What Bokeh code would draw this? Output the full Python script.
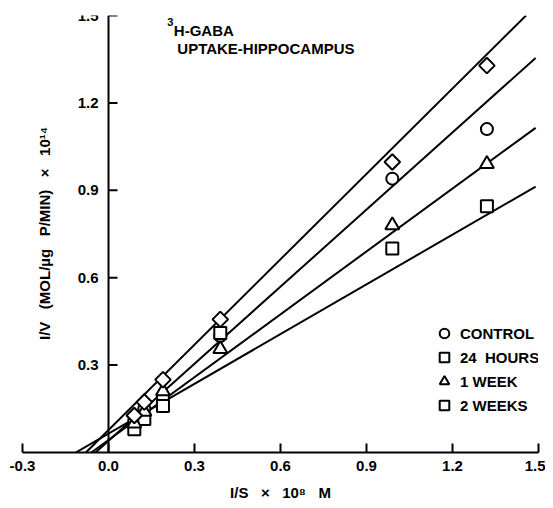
import math
from bokeh.plotting import figure
from bokeh.models import Label, Range1d, FixedTicker, Legend, LegendItem
from bokeh.core.properties import value
from bokeh.embed import file_html
from bokeh.resources import INLINE

NB = "\u00a0"

# ---- data ----
x_tick_values = [-0.3, 0.0, 0.3, 0.6, 0.9, 1.2, 1.5]
x_tick_labels = ["-0.3", "0.0", "0.3", "0.6", "0.9", "1.2", "1.5"]
y_tick_values = [0.3, 0.6, 0.9, 1.2, 1.5]
y_tick_labels = ["0.3", "0.6", "0.9", "1.2", "1.5"]

series_names = ["CONTROL", "24" + NB * 2 + "HOURS", "1 WEEK", "2 WEEKS"]

x_control = [0.09, 0.125, 0.19, 0.39, 0.99, 1.32]
y_control = [0.11, 0.15, 0.19, 0.40, 0.94, 1.11]
x_24h = [0.09, 0.125, 0.19, 0.39, 0.99, 1.32]
y_24h = [0.08, 0.115, 0.16, 0.41, 0.70, 0.845]
x_1w = [0.09, 0.125, 0.19, 0.39, 0.99, 1.32]
y_1w = [0.10, 0.14, 0.21, 0.355, 0.78, 0.99]
x_2w = [0.09, 0.125, 0.19, 0.39, 0.99, 1.32]
y_2w = [0.127, 0.173, 0.25, 0.457, 0.997, 1.328]

# fitted lines (slope, intercept)
fit_slope = [0.882, 0.569, 0.719, 0.977]
fit_intercept = [0.040, 0.065, 0.043, 0.077]

x_title = "I/S" + NB * 3 + "\u00d7" + NB * 3 + "10\u2078" + NB * 3 + "M"
y_title = ("I/V" + NB * 3 + "(MOL/\u00b5g" + NB * 3 + "P/MIN)" + NB * 3 + "\u00d7"
           + NB * 3 + "10\u00b9\u2074")

FONT = value("Liberation Sans")

p = figure(frame_width=516, frame_height=437, output_backend="svg",
           toolbar_location=None, x_range=Range1d(-0.3, 1.5), y_range=Range1d(0, 1.5),
           min_border_left=22, min_border_right=7, min_border_top=15, min_border_bottom=0)
p.outline_line_color = None
p.xgrid.visible = False
p.ygrid.visible = False
p.yaxis.visible = False
p.background_fill_color = "white"
p.border_fill_color = "white"

ax = p.xaxis[0]
ax.ticker = FixedTicker(ticks=x_tick_values)
ax.major_label_overrides = {v: s for v, s in zip(x_tick_values, x_tick_labels)}
ax.minor_tick_line_color = None
ax.major_tick_in = 9
ax.major_tick_out = 0
ax.major_tick_line_width = 2
ax.axis_line_width = 2
ax.axis_line_color = "black"
ax.major_tick_line_color = "black"
ax.major_label_standoff = 8
ax.major_label_text_font = "Liberation Sans"
ax.major_label_text_font_style = "bold"
ax.major_label_text_font_size = "15px"
ax.major_label_text_color = "black"
ax.axis_label = x_title
ax.axis_label_standoff = 10
ax.axis_label_text_font = "Liberation Sans"
ax.axis_label_text_font_style = "bold"
ax.axis_label_text_font_size = "15px"
ax.axis_label_text_color = "black"

# y axis drawn at x = 0
p.segment(x0=[0], y0=[0], x1=[0], y1=[max(y_tick_values)], line_width=2, color="black")
p.ray(x=[0] * len(y_tick_values), y=y_tick_values, length=9, length_units="screen",
      angle=0, line_width=2, color="black")
p.text(x=[0] * len(y_tick_values), y=y_tick_values, text=y_tick_labels, x_offset=-10,
       text_align="right", text_baseline="middle", text_font=FONT,
       text_font_style="bold", text_font_size="15px", text_color="black")

p.add_layout(Label(x=-0.223, y=0.752, text=y_title,
                   angle=math.pi / 2, text_align="center", text_baseline="middle",
                   text_font="Liberation Sans", text_font_style="bold",
                   text_font_size="15px", text_color="black"))

# fitted lines
for m, b in zip(fit_slope, fit_intercept):
    x0 = -b / m
    x1 = min(1.49, (1.5 - b) / m)
    p.line([x0, x1], [m * x0 + b, m * x1 + b], line_width=2, color="black")

common = dict(fill_color="white", line_color="black", line_width=2)
r_c = p.scatter(x_control, y_control, marker="circle", size=12, **common)
r_h = p.scatter(x_24h, y_24h, marker="square", size=12, **common)
r_w = p.scatter(x_1w, y_1w, marker="triangle", size=14, **common)
r_2 = p.scatter(x_2w, y_2w, marker="square", angle=math.pi / 4, size=11, **common)

legend = Legend(items=[LegendItem(label=n, renderers=[r]) for n, r in
                       zip(series_names, [r_c, r_h, r_w, r_2])],
                location=(410, 35), border_line_color=None, background_fill_alpha=0,
                padding=0, margin=0, spacing=0, glyph_width=24, glyph_height=24,
                label_height=24, label_standoff=4,
                label_text_font="Liberation Sans", label_text_font_style="bold",
                label_text_font_size="15px", label_text_color="black")
p.add_layout(legend)

# title text
title_style = dict(text_font="Liberation Sans", text_font_style="bold",
                   text_baseline="middle", text_color="black")
p.add_layout(Label(x=0.205, y=1.476, text="3", text_font_size="11px", **title_style))
p.add_layout(Label(x=0.228, y=1.448, text="H-GABA", text_font_size="15px", **title_style))
p.add_layout(Label(x=0.24, y=1.387, text="UPTAKE-HIPPOCAMPUS", text_font_size="15px",
                   **title_style))

open("out.html", "w").write(file_html(p, INLINE))
